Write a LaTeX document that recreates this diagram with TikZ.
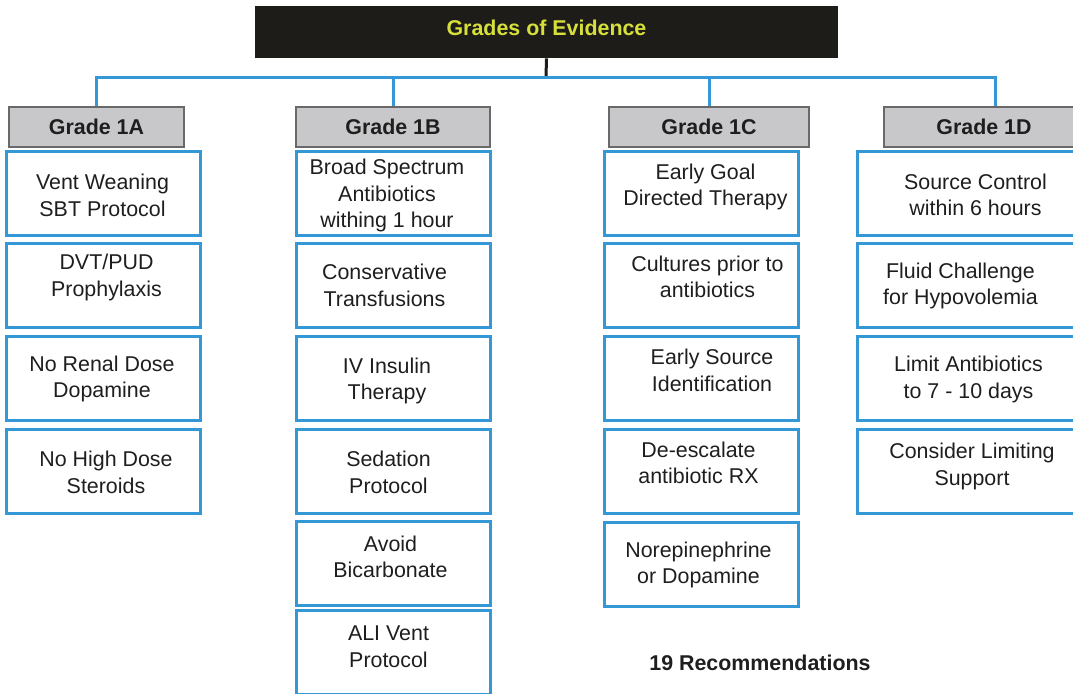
\documentclass[tikz,border=0pt]{standalone}
\usepackage{fontspec}
\setmainfont{Liberation Sans}
\usepackage{tikz}

\definecolor{evblue}{RGB}{52,152,214}
\definecolor{hdrgray}{RGB}{200,200,202}
\definecolor{hdrline}{RGB}{105,105,105}
\definecolor{titlebg}{RGB}{30,28,24}
\definecolor{titletext}{RGB}{214,224,58}
\definecolor{inktext}{RGB}{30,30,30}

\newcommand{\evfont}{\fontsize{10.7}{13.3}\selectfont}

\begin{document}
\begin{tikzpicture}[x=0.5pt, y=-0.5pt, every node/.style={font=\evfont, text=inktext}]
	\tikzstyle{titlebox} = [fill=titlebg, text=titletext, minimum width=291.5pt, minimum height=26pt, text depth=4pt, font=\evfont\bfseries]
	\tikzstyle{grade} = [draw=hdrline, line width=1pt, fill=hdrgray, minimum height=20pt, font=\evfont\bfseries]
	\tikzstyle{rec} = [draw=evblue, line width=1.5pt, minimum width=97pt, minimum height=42pt]
	\tikzstyle{every label} = [align=center]
	\tikzstyle{link} = [draw=evblue, line width=1.5pt]
	\tikzstyle{stem} = [draw=titlebg, line width=1.5pt]
	\clip (0,0) rectangle (1073,693);

	% top of the tree
	\node [titlebox] (top) at (546.5,32) {Grades of Evidence};
	\coordinate (bus) at (546,77);

	% grade headers
	\node [grade, minimum width=87.5pt] (g1a) at (96.5,127) {Grade 1A};
	\node [grade, minimum width=97pt] (g1b) at (393,127) {Grade 1B};
	\node [grade, minimum width=100pt] (g1c) at (709,127) {Grade 1C};
	\node [grade, minimum width=100pt] (g1d) at (984,127) {Grade 1D};
	\coordinate (drop1d) at ([xshift=5.5pt]g1d.north);

	% column 1A
	\node [rec, label={[shift={(-1,2)}]center:Vent Weaning\\SBT Protocol}] (a1) at (103.5,193.5) {};
	\node [rec, label={[shift={(3,-8)}]center:DVT/PUD\\Prophylaxis}] (a2) at (103.5,285.5) {};
	\node [rec, label={[shift={(-1.5,1)}]center:No Renal Dose\\Dopamine}] (a3) at (103.5,378) {};
	\node [rec, label={[shift={(2.5,1)}]center:No High Dose\\Steroids}] (a4) at (103.5,471.5) {};

	% column 1B
	\node [rec, label={[shift={(-6,2)}]center:Broad Spectrum\\Antibiotics\\withing 1 hour}] (b1) at (393,193.5) {};
	\node [rec, label={[shift={(-8.5,0)}]center:Conservative\\Transfusions}] (b2) at (393,285.5) {};
	\node [rec, label={[shift={(-6,3)}]center:IV Insulin\\Therapy}] (b3) at (393,378) {};
	\node [rec, label={[shift={(-4.5,1)}]center:Sedation\\Protocol}] (b4) at (393,471.5) {};
	\node [rec, label={[shift={(-2.5,-6.5)}]center:Avoid\\Bicarbonate}] (b5) at (393,563.5) {};
	\node [rec, label={[shift={(-4.5,-5.5)}]center:ALI Vent\\Protocol}] (b6) at (393,652.5) {};

	% column 1C
	\node [rec, label={[shift={(4.5,-6.5)}]center:Early Goal\\Directed Therapy}] (c1) at (701,193.5) {};
	\node [rec, label={[shift={(6.5,-8.5)}]center:Cultures prior to\\antibiotics}] (c2) at (701,285.5) {};
	\node [rec, label={[shift={(11,-7.5)}]center:Early Source\\Identification}] (c3) at (701,378) {};
	\node [rec, label={[shift={(-2.5,-8.5)}]center:De-escalate\\antibiotic RX}] (c4) at (701,471.5) {};
	\node [rec, label={[shift={(-2.5,1)}]center:Norepinephrine\\or Dopamine}] (c5) at (701,564) {};

	% column 1D
	\node [rec, minimum width=120pt, label={[shift={(-2,1.5)}]center:Source Control\\within 6 hours}] (d1) at (977.5,193.5) {};
	\node [rec, minimum width=120pt, label={[shift={(-17,0.5)}]center:Fluid Challenge\\for Hypovolemia}] (d2) at (977.5,285.5) {};
	\node [rec, minimum width=120pt, label={[shift={(-9,1.5)}]center:Limit Antibiotics\\to 7 - 10 days}] (d3) at (977.5,378) {};
	\node [rec, minimum width=120pt, label={[shift={(-5.5,-5)}]center:Consider Limiting\\Support}] (d4) at (977.5,471.5) {};

	\node [font=\evfont\bfseries] (total) at (760,663) {19 Recommendations};

	% connectors
	\path [stem] (top.south) -- (bus);
	\path [link] (g1a.north) |- (bus) -| (drop1d);
	\path [link] (g1b.north) -- (g1b.north |- bus);
	\path [link] (g1c.north) -- (g1c.north |- bus);
\end{tikzpicture}
\end{document}
